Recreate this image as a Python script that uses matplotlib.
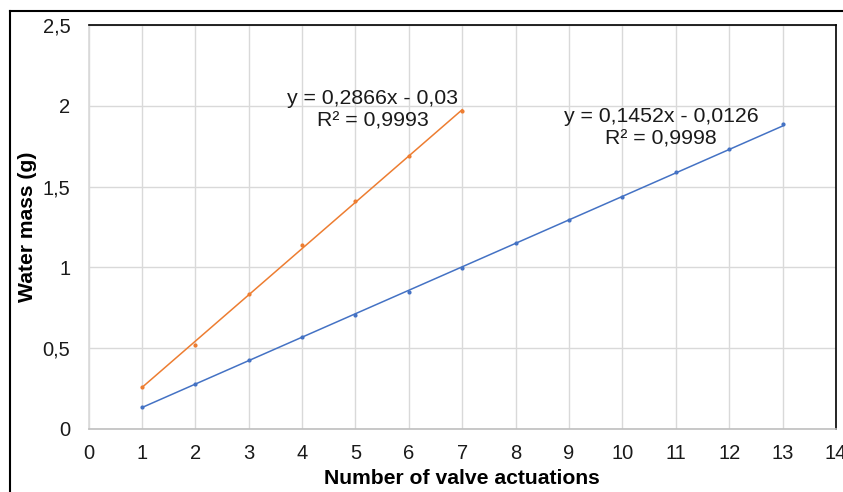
import numpy as np
import matplotlib
matplotlib.use('Agg')
import matplotlib.pyplot as plt
from matplotlib.lines import Line2D

plt.rcParams['font.family'] = ['Liberation Sans', 'DejaVu Sans']

# measured water mass per number of valve actuations
x_a = [1, 2, 3, 4, 5, 6, 7, 8, 9, 10, 11, 12, 13]
mass_a = [0.135, 0.28, 0.425, 0.57, 0.705, 0.85, 0.998, 1.152, 1.293, 1.436, 1.592, 1.733, 1.885]
x_b = [1, 2, 3, 4, 5, 6, 7]
mass_b = [0.26, 0.522, 0.834, 1.14, 1.41, 1.689, 1.966]

# linear trendlines (slope, intercept, R^2)
fit_a = (0.1452, -0.0126, 0.9998)
fit_b = (0.2866, -0.03, 0.9993)

blue = '#4472C4'
orange = '#ED7D31'

fig = plt.figure(figsize=(8.43, 4.92), dpi=100)
ax = fig.add_axes([88.5 / 843, 63 / 492, (836 - 88.5) / 843, (429 - 25) / 492])


def fmt(v):
    return ('%g' % v).replace('.', ',')


def eq_label(fit):
    m, b, r2 = fit
    sign = '-' if b < 0 else '+'
    return 'y = %sx %s %s\nR\u00b2 = %s' % (fmt(m), sign, fmt(abs(b)), fmt(r2))


for xs, ys, fit, col in [(x_a, mass_a, fit_a, blue), (x_b, mass_b, fit_b, orange)]:
    xs = np.asarray(xs, dtype=float)
    xl = np.array([xs.min(), xs.max()])
    ax.plot(xl, fit[0] * xl + fit[1], color=col, lw=1.1, zorder=3)
    ax.plot(xs, ys, 'o', color=col, ms=2.0, zorder=4)

ax.text(5.32, 1.977, eq_label(fit_b), ha='center', va='center', fontsize=15.3,
        linespacing=1.22, color='#1a1a1a')
ax.text(10.72, 1.866, eq_label(fit_a), ha='center', va='center', fontsize=15.3,
        linespacing=1.22, color='#1a1a1a')

ax.set_xlim(0, 14)
ax.set_ylim(0, 2.5)
ax.set_xticks(range(0, 15))
ax.set_yticks(np.arange(0, 2.51, 0.5))
ax.set_yticklabels([fmt(v) for v in np.arange(0, 2.51, 0.5)])
ax.grid(True, color='#d9d9d9', lw=1)
ax.set_axisbelow(True)
ax.tick_params(length=0, labelsize=14.5, colors='#1a1a1a')
ax.tick_params(axis='y', pad=13)
ax.tick_params(axis='x', pad=11)

ax.spines['left'].set_color('#d9d9d9')
ax.spines['bottom'].set_color('#bfbfbf')
ax.spines['top'].set_color('black')
ax.spines['right'].set_color('black')
for s in ax.spines.values():
    s.set_linewidth(1.2)

ax.set_xlabel('Number of valve actuations', fontsize=15.2, fontweight='bold', va='center')
ax.set_ylabel('Water mass (g)', fontsize=15.2, fontweight='bold', va='center')
ax.xaxis.set_label_coords(0.5, (429 - 479) / 404)
ax.yaxis.set_label_coords((27 - 88.5) / 747.5, 0.5)

# outer frame of the chart
fig.add_artist(Line2D([10 / 843, 1], [1 - 11 / 492] * 2, color='black', lw=1.5,
                      transform=fig.transFigure))
fig.add_artist(Line2D([10 / 843] * 2, [0, 1 - 11 / 492], color='black', lw=1.5,
                      transform=fig.transFigure))

fig.savefig('out.png', dpi=100)
